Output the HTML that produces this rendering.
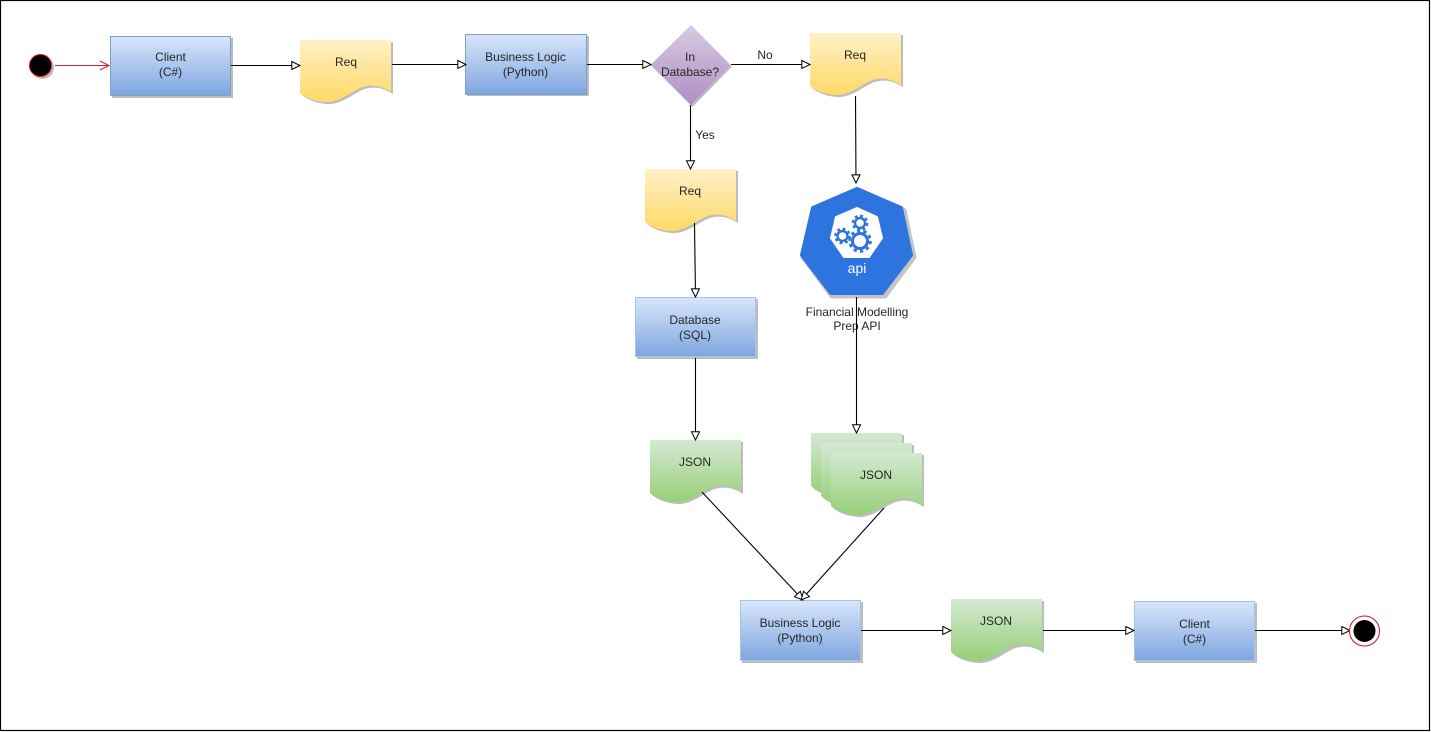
<!DOCTYPE html>
<html>
<head>
<meta charset="utf-8">
<style>
html,body{margin:0;padding:0;background:#fff;width:1431px;height:732px;overflow:hidden}
svg{display:block}
text{font-family:"Liberation Sans",Arial,sans-serif;font-size:12px;fill:#262626;text-anchor:middle}
.l{stroke:#000;stroke-width:1.1;fill:none;marker-end:url(#tri)}
</style>
</head>
<body>
<svg width="1431" height="732" viewBox="0 0 1431 732" xmlns="http://www.w3.org/2000/svg">
<defs>
<linearGradient id="b" x1="0" y1="0" x2="0" y2="1"><stop offset="0" stop-color="#d8e6fb"/><stop offset="1" stop-color="#7ea6e0"/></linearGradient>
<linearGradient id="y" x1="0" y1="0" x2="0" y2="1"><stop offset="0" stop-color="#fff0c8"/><stop offset="1" stop-color="#ffd966"/></linearGradient>
<linearGradient id="g" x1="0" y1="0" x2="0" y2="1"><stop offset="0" stop-color="#d5e8d4"/><stop offset="1" stop-color="#97d077"/></linearGradient>
<linearGradient id="p" x1="0" y1="0" x2="0" y2="1"><stop offset="0" stop-color="#d6cbe2"/><stop offset="1" stop-color="#b18ec6"/></linearGradient>
<marker id="tri" markerUnits="userSpaceOnUse" markerWidth="11" markerHeight="11" refX="9" refY="5" orient="auto">
<path d="M0.8,1 L9,5 L0.8,9 Z" fill="#fff" stroke="#000" stroke-width="1"/>
</marker>
<marker id="open" markerUnits="userSpaceOnUse" markerWidth="12" markerHeight="12" refX="10" refY="6" orient="auto">
<path d="M1,1.5 L10,6 L1,10.5" fill="none" stroke="#c8252b" stroke-width="1"/>
</marker>
</defs>

<rect x="0.5" y="0.5" width="1429" height="730" fill="#fff" stroke="#000" stroke-width="1.2"/>

<!-- start -->
<circle cx="42.5" cy="67.5" r="11.5" fill="#bdbdbd"/>
<circle cx="40.5" cy="65.5" r="11" fill="#000" stroke="#d0141c" stroke-width="1"/>

<!-- rects -->
<rect x="112" y="38" width="121" height="60" fill="#bdbdbd"/>
<rect x="110.5" y="36.5" width="120" height="59" fill="url(#b)" stroke="#7f9fc8" stroke-width="1"/>
<text x="170.5" y="61">Client</text><text x="170.5" y="76">(C#)</text>

<rect x="467" y="36" width="122" height="60" fill="#bdbdbd"/>
<rect x="465.5" y="34.5" width="121" height="60" fill="url(#b)" stroke="#7f9fc8" stroke-width="1"/>
<text x="525.5" y="61">Business Logic</text><text x="525.5" y="76">(Python)</text>

<rect x="637" y="299" width="121" height="60" fill="#bdbdbd"/>
<rect x="635.5" y="297.5" width="120" height="59" fill="url(#b)" stroke="#a9c2e4" stroke-width="1"/>
<text x="695" y="324">Database</text><text x="695" y="339">(SQL)</text>

<rect x="742" y="602" width="121" height="61" fill="#bdbdbd"/>
<rect x="740.5" y="600.5" width="120" height="60" fill="url(#b)" stroke="#a9c2e4" stroke-width="1"/>
<text x="800" y="627">Business Logic</text><text x="800" y="642">(Python)</text>

<rect x="1136" y="603" width="121" height="60" fill="#bdbdbd"/>
<rect x="1134.5" y="601.5" width="120" height="59" fill="url(#b)" stroke="#a9c2e4" stroke-width="1"/>
<text x="1194.5" y="628">Client</text><text x="1194.5" y="643">(C#)</text>

<!-- diamond -->
<path d="M692.5,27 L732,66.5 L692.5,107 L653,66.5 Z" fill="#bdbdbd"/>
<path d="M691,25 L730.5,65 L691,105 L650.5,65 Z" fill="url(#p)"/>
<text x="690" y="61">In</text><text x="690" y="76">Database?</text>
<text x="765" y="59">No</text>
<text x="705" y="139">Yes</text>

<!-- yellow docs -->
<g transform="translate(300,40)">
<path transform="translate(2,2)" d="M0,0 H91 V52 C80,45 70,44 60,48 C48,54 38,63 24,62 C14,61 6,58 0,53 Z" fill="#bdbdbd"/>
<path d="M0,0 H91 V52 C80,45 70,44 60,48 C48,54 38,63 24,62 C14,61 6,58 0,53 Z" fill="url(#y)"/>
<text x="46" y="26">Req</text>
</g>
<g transform="translate(810,33)">
<path transform="translate(2,2)" d="M0,0 H91 V52 C80,45 70,44 60,48 C48,54 38,63 24,62 C14,61 6,58 0,53 Z" fill="#bdbdbd"/>
<path d="M0,0 H91 V52 C80,45 70,44 60,48 C48,54 38,63 24,62 C14,61 6,58 0,53 Z" fill="url(#y)"/>
<text x="45" y="26">Req</text>
</g>
<g transform="translate(645,169)">
<path transform="translate(2,2)" d="M0,0 H91 V52 C80,45 70,44 60,48 C48,54 38,63 24,62 C14,61 6,58 0,53 Z" fill="#bdbdbd"/>
<path d="M0,0 H91 V52 C80,45 70,44 60,48 C48,54 38,63 24,62 C14,61 6,58 0,53 Z" fill="url(#y)"/>
<text x="45" y="26">Req</text>
</g>

<!-- green docs -->
<g transform="translate(650,440)">
<path transform="translate(2,2)" d="M0,0 H91 V52 C80,45 70,44 60,48 C48,54 38,63 24,62 C14,61 6,58 0,53 Z" fill="#bdbdbd"/>
<path d="M0,0 H91 V52 C80,45 70,44 60,48 C48,54 38,63 24,62 C14,61 6,58 0,53 Z" fill="url(#g)"/>
<text x="45" y="26">JSON</text>
</g>
<g transform="translate(811,433)">
<path transform="translate(2,2)" d="M0,0 H91 V52 C80,45 70,44 60,48 C48,54 38,63 24,62 C14,61 6,58 0,53 Z" fill="#bdbdbd"/>
<path d="M0,0 H91 V52 C80,45 70,44 60,48 C48,54 38,63 24,62 C14,61 6,58 0,53 Z" fill="url(#g)"/>
</g>
<g transform="translate(821,443)">
<path transform="translate(2,2)" d="M0,0 H91 V52 C80,45 70,44 60,48 C48,54 38,63 24,62 C14,61 6,58 0,53 Z" fill="#bdbdbd"/>
<path d="M0,0 H91 V52 C80,45 70,44 60,48 C48,54 38,63 24,62 C14,61 6,58 0,53 Z" fill="url(#g)"/>
</g>
<g transform="translate(831,453)">
<path transform="translate(2,2)" d="M0,0 H91 V52 C80,45 70,44 60,48 C48,54 38,63 24,62 C14,61 6,58 0,53 Z" fill="#bdbdbd"/>
<path d="M0,0 H91 V52 C80,45 70,44 60,48 C48,54 38,63 24,62 C14,61 6,58 0,53 Z" fill="url(#g)"/>
<text x="45" y="26">JSON</text>
</g>
<g transform="translate(951,599)">
<path transform="translate(2,2)" d="M0,0 H91 V52 C80,45 70,44 60,48 C48,54 38,63 24,62 C14,61 6,58 0,53 Z" fill="#bdbdbd"/>
<path d="M0,0 H91 V52 C80,45 70,44 60,48 C48,54 38,63 24,62 C14,61 6,58 0,53 Z" fill="url(#g)"/>
<text x="45" y="26">JSON</text>
</g>

<!-- api heptagon -->
<path d="M858.5,190 L904,210 L914,257 L885,296 L832,296 L803,257 L814,210 Z" fill="#c4c4c4" stroke="#c4c4c4" stroke-width="5" stroke-linejoin="round"/>
<path d="M857,189 L901,208 L911,255 L882,293 L831,293 L802,255 L813,208 Z" fill="#2e74de" stroke="#2e74de" stroke-width="4" stroke-linejoin="round"/>
<path d="M857,208 L877,217 L882,238 L869,257 L844,257 L831,238 L836,217 Z" fill="#fff" stroke="#fff" stroke-width="2" stroke-linejoin="round"/>
<g fill="none" stroke="#2e74de">
<circle cx="842.5" cy="236" r="5" stroke-width="2.4"/>
<circle cx="842.5" cy="236" r="7.2" stroke-width="2.4" stroke-dasharray="2.8 2.85"/>
<circle cx="860" cy="223" r="5" stroke-width="2.4"/>
<circle cx="860" cy="223" r="7.2" stroke-width="2.4" stroke-dasharray="2.8 2.85"/>
<circle cx="860" cy="241" r="7.5" stroke-width="3"/>
<circle cx="860" cy="241" r="10.4" stroke-width="2.8" stroke-dasharray="3.2 3.33"/>
</g>
<text x="857" y="273" style="font-size:14px;fill:#fff">api</text>

<text x="857" y="316">Financial Modelling</text>
<text x="857" y="330">Prep API</text>

<!-- connectors -->
<path d="M55,65.5 H109" stroke="#c8252b" stroke-width="1" fill="none" marker-end="url(#open)"/>
<path class="l" d="M231,65.5 H300"/>
<path class="l" d="M392,64.5 H466"/>
<path class="l" d="M587,64.5 H651"/>
<path class="l" d="M731,64.5 H810"/>
<path class="l" d="M690.5,105 V169"/>
<path class="l" d="M855.5,96 L856,183"/>
<path class="l" d="M694.5,223 L695.5,297"/>
<path class="l" d="M695.5,358 V440"/>
<path class="l" d="M856.5,297 V433"/>
<path class="l" d="M702,492 L803,600"/>
<path class="l" d="M884,508 L801,600"/>
<path class="l" d="M861,630.5 H951"/>
<path class="l" d="M1043,630.5 H1134"/>
<path class="l" d="M1255,630.5 H1350"/>

<!-- end -->
<circle cx="1364.5" cy="631" r="15" fill="#fff" stroke="#d0141c" stroke-width="1"/>
<circle cx="1364.5" cy="631" r="11" fill="#000"/>
</svg>
</body>
</html>
